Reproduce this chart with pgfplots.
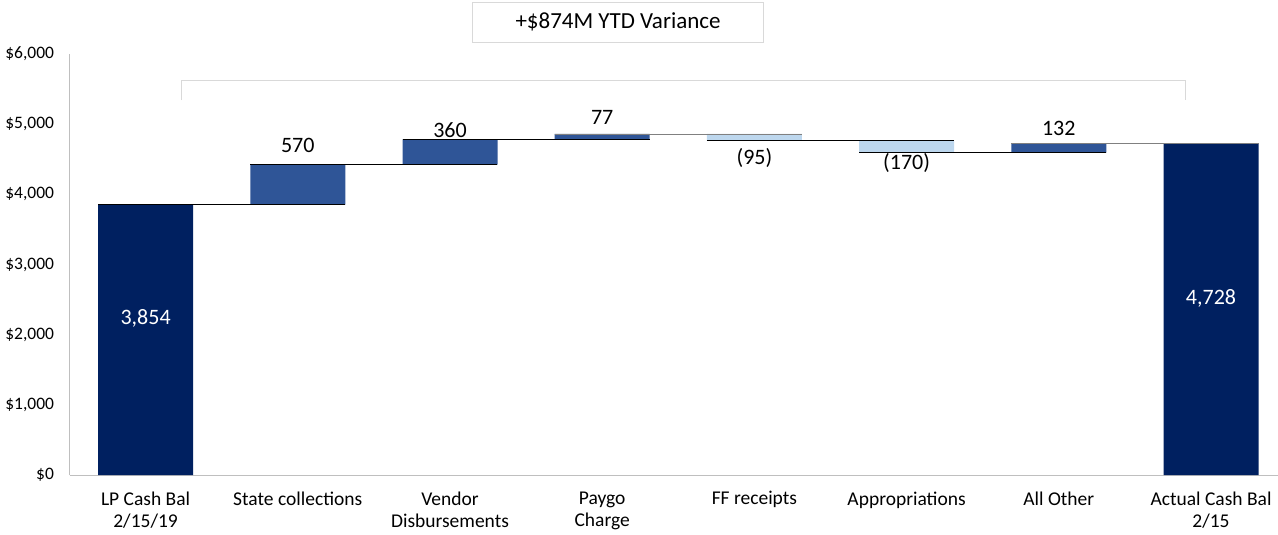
\documentclass[border=0pt]{standalone}
\usepackage{pgfplots}
\pgfplotsset{compat=1.18}
\usepackage{fontspec}
\setmainfont{Carlito}
\definecolor{navy}{HTML}{002060}
\definecolor{midblue}{HTML}{2F5597}
\definecolor{lightblue}{HTML}{BDD7EE}
\definecolor{axgray}{HTML}{BFBFBF}
\definecolor{brgray}{HTML}{D9D9D9}
\begin{document}
\begin{tikzpicture}
\useasboundingbox (0bp,0bp) rectangle (1278bp,535bp);
\pgfplotsset{
  common/.style={
    at={(69.5bp,60bp)}, anchor=south west,
    scale only axis, width=1208.5bp, height=421bp,
    xmin=-0.5, xmax=7.44, ymin=0, ymax=6000,
    clip=false,
  }
}
\begin{axis}[
  common,
  ybar stacked, bar width=95bp,
  axis x line=bottom, axis y line=left,
  axis line style={draw=axgray, line width=1bp, -},
  xtick={0,...,7},
  xticklabels={{LP Cash Bal\\2/15/19},{State collections},{Vendor\\Disbursements},{Paygo\\Charge},{FF receipts},{Appropriations},{All Other},{Actual Cash Bal\\2/15}},
  xticklabel style={font=\fontsize{19.5bp}{22bp}\selectfont, align=center, anchor=north, yshift=-13bp},
  ytick={0,1000,2000,3000,4000,5000,6000},
  yticklabels={{\$0},{\$1,000},{\$2,000},{\$3,000},{\$4,000},{\$5,000},{\$6,000}},
  yticklabel style={font=\fontsize{17.5bp}{20bp}\selectfont, anchor=east, xshift=-12bp},
  major tick length=0pt,
]
% invisible base
\addplot[fill=none, draw=none] coordinates {(0,0) (1,3854) (2,4424) (3,4784) (4,4766) (5,4596) (6,4596) (7,0)};
% totals
\addplot[fill=navy, draw=none] coordinates {(0,3854) (1,0) (2,0) (3,0) (4,0) (5,0) (6,0) (7,4728)};
% increases
\addplot[fill=midblue, draw=none] coordinates {(0,0) (1,570) (2,360) (3,77) (4,0) (5,0) (6,132) (7,0)};
% decreases
\addplot[fill=lightblue, draw=none] coordinates {(0,0) (1,0) (2,0) (3,0) (4,95) (5,170) (6,0) (7,0)};
\end{axis}
\begin{axis}[common, hide axis]
% connectors
\addplot[black, line width=0.8bp] coordinates {(-0.312,3854) (1.312,3854)};
\addplot[black, line width=0.8bp] coordinates {(0.688,4424) (2.312,4424)};
\addplot[black, line width=0.8bp] coordinates {(1.688,4784) (3.312,4784)};
\addplot[gray, line width=0.8bp] coordinates {(2.688,4861) (4.312,4861)};
\addplot[black, line width=0.8bp] coordinates {(3.688,4766) (5.312,4766)};
\addplot[black, line width=0.8bp] coordinates {(4.688,4596) (6.312,4596)};
\addplot[gray, line width=0.8bp] coordinates {(5.688,4728) (7.312,4728)};
% bracket
\addplot[brgray, line width=1bp] coordinates {(0.237,5344) (0.237,5629) (6.83,5629) (6.83,5344)};
% labels
\node[font=\fontsize{22bp}{24bp}\selectfont] at (axis cs:1,4703) {570};
\node[font=\fontsize{22bp}{24bp}\selectfont] at (axis cs:2,4917) {360};
\node[font=\fontsize{22bp}{24bp}\selectfont] at (axis cs:3,5102) {77};
\node[font=\fontsize{22bp}{24bp}\selectfont] at (axis cs:4,4518) {(95)};
\node[font=\fontsize{22bp}{24bp}\selectfont] at (axis cs:5,4446) {(170)};
\node[font=\fontsize{22bp}{24bp}\selectfont] at (axis cs:6,4945) {132};
\node[font=\fontsize{22bp}{24bp}\selectfont, text=white] at (axis cs:0,2237) {3,854};
\node[font=\fontsize{22bp}{24bp}\selectfont, text=white] at (axis cs:7,2522) {4,728};
% box
\node[draw=brgray, line width=1bp, fill=white, minimum width=291bp, minimum height=40bp, font=\fontsize{23bp}{26bp}\selectfont] at (axis cs:3.104,6456) {+\$874M YTD Variance};
\end{axis}
\end{tikzpicture}
\end{document}
